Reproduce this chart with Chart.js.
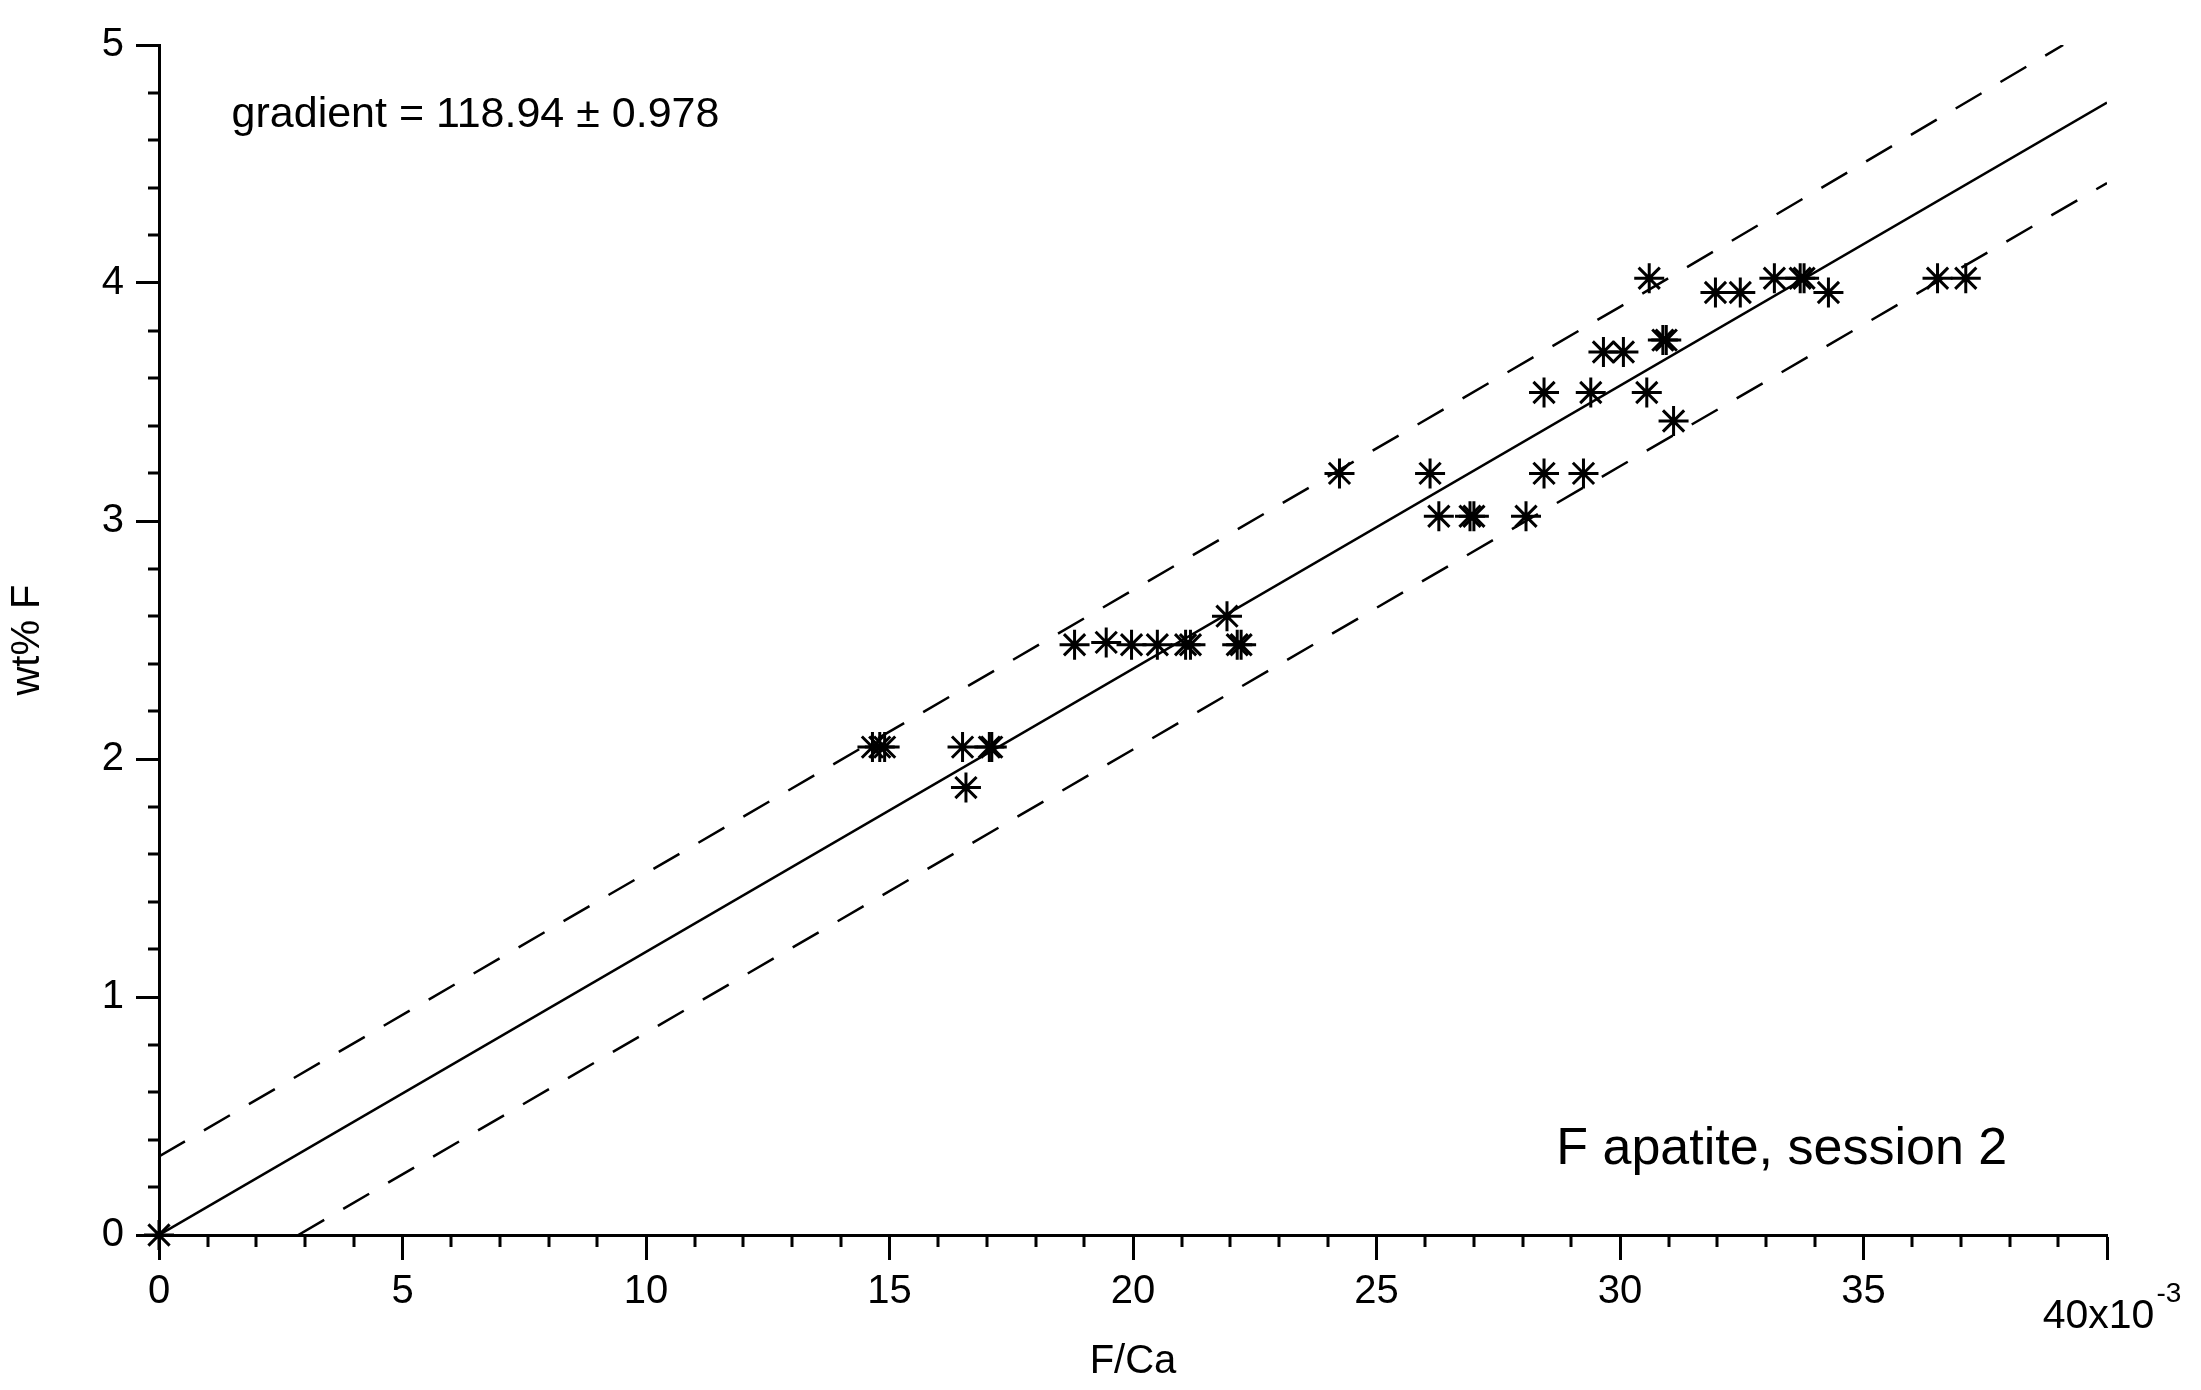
<!DOCTYPE html>
<html>
<head>
<meta charset="utf-8">
<script src="https://cdn.jsdelivr.net/npm/chart.js@4.4.1/dist/chart.umd.min.js"></script>
<style>
  body { margin: 0; background: #fff; }
  #wrap { width: 2201px; height: 1390px; position: relative; }
</style>
</head>
<body>
<div id="wrap"><canvas id="chart"></canvas></div>
<script>
// F/Ca (x10^-3) and wt% F for each analysis
const fCa = [0,
  14.65, 14.8, 14.9, 16.5, 17.05, 17.1,
  16.57,
  18.8, 19.45, 19.97, 20.5, 21.08, 21.18, 22.14, 22.22,
  21.93,
  24.24, 26.1, 28.44, 29.25,
  26.28, 26.92, 27.0, 28.07,
  28.44, 29.4, 30.55,
  29.66, 30.07,
  30.88, 30.95,
  31.1,
  30.6, 33.17, 33.7, 33.78, 36.52, 37.1,
  31.96, 32.47, 34.28];
const wtF = [0,
  2.05, 2.05, 2.05, 2.05, 2.05, 2.05,
  1.88,
  2.48, 2.49, 2.48, 2.48, 2.48, 2.48, 2.48, 2.48,
  2.6,
  3.2, 3.2, 3.2, 3.2,
  3.02, 3.02, 3.02, 3.02,
  3.54, 3.54, 3.54,
  3.71, 3.71,
  3.76, 3.76,
  3.42,
  4.02, 4.02, 4.02, 4.02, 4.02, 4.02,
  3.96, 3.96, 3.96];

// regression line and confidence band
const fitX = [0, 40];
const fitY = [0, 4.758];
const upperX = [0, 10, 20, 30, 39.1];
const upperY = [0.33, 1.52, 2.71, 3.90, 5.0];
const lowerX = [2.86, 10, 20, 30, 40];
const lowerY = [0, 0.85, 2.04, 3.23, 4.42];

const gradientText = "gradient = 118.94 \u00b1 0.978";
const sessionText = "F apatite, session 2";

const FONT = "'Liberation Sans', Arial, sans-serif";
Chart.defaults.font.family = FONT;
Chart.defaults.color = "#000";

const pts = (xs, ys) => xs.map((x, i) => ({ x, y: ys[i] }));

const extras = {
  id: "extras",
  afterDraw(chart) {
    const { ctx, scales: { x, y } } = chart;
    ctx.save();
    ctx.strokeStyle = "#000";
    ctx.lineWidth = 3;
    // minor ticks
    ctx.beginPath();
    for (let v = 1; v < 40; v++) {
      if (v % 5 === 0) continue;
      const px = Math.round(x.getPixelForValue(v));
      ctx.moveTo(px, y.bottom);
      ctx.lineTo(px, y.bottom + 12);
    }
    for (let i = 1; i < 25; i++) {
      if (i % 5 === 0) continue;
      const py = Math.round(y.getPixelForValue(i / 5));
      ctx.moveTo(x.left, py);
      ctx.lineTo(x.left - 11, py);
    }
    ctx.stroke();

    // last x label with exponent
    ctx.fillStyle = "#000";
    ctx.textBaseline = "alphabetic";
    ctx.font = `41px ${FONT}`;
    const base = "40x10";
    const w1 = ctx.measureText(base).width;
    ctx.font = `28px ${FONT}`;
    const w2 = ctx.measureText("-3").width;
    const cx = x.getPixelForValue(40);
    const left = cx - (w1 + w2) / 2 + 4;
    ctx.font = `41px ${FONT}`;
    ctx.textAlign = "left";
    ctx.fillText(base, left, 1328);
    ctx.font = `28px ${FONT}`;
    ctx.fillText("-3", left + w1 + 2, 1302);

    // annotations
    ctx.font = `43px ${FONT}`;
    ctx.fillText(gradientText, x.getPixelForValue(1.49), y.getPixelForValue(4.655));
    ctx.font = `52px ${FONT}`;
    ctx.textAlign = "right";
    ctx.fillText(sessionText, x.getPixelForValue(37.95), y.getPixelForValue(0.3));
    ctx.restore();
  }
};

new Chart(document.getElementById("chart"), {
  type: "scatter",
  data: {
    datasets: [
      {
        data: pts(fCa, wtF),
        pointStyle: "star",
        pointRadius: 15,
        pointHoverRadius: 15,
        borderColor: "#000",
        backgroundColor: "#000",
        pointBorderWidth: 3,
        clip: false
      },
      {
        type: "line",
        data: pts(fitX, fitY),
        borderColor: "#000",
        borderWidth: 2.5,
        pointRadius: 0,
        fill: false
      },
      {
        type: "line",
        data: pts(upperX, upperY),
        borderColor: "#000",
        borderWidth: 2.5,
        borderDash: [30, 22],
        pointRadius: 0,
        fill: false
      },
      {
        type: "line",
        data: pts(lowerX, lowerY),
        borderColor: "#000",
        borderWidth: 2.5,
        borderDash: [30, 22],
        pointRadius: 0,
        fill: false
      }
    ]
  },
  options: {
    responsive: true,
    maintainAspectRatio: false,
    animation: false,
    events: [],
    layout: { padding: { top: 45, right: 94, left: 0, bottom: 0 } },
    plugins: { legend: { display: false }, tooltip: { enabled: false } },
    scales: {
      x: {
        type: "linear",
        min: 0,
        max: 40,
        afterFit: s => { s.height = 155; },
        border: { color: "#000", width: 3 },
        grid: { drawOnChartArea: false, tickLength: 25, tickColor: "#000", tickWidth: 3 },
        ticks: {
          stepSize: 5,
          maxRotation: 0,
          padding: 8,
          font: { size: 40 },
          callback: v => (v === 40 ? "" : v)
        },
        title: { display: true, text: "F/Ca", font: { size: 40 }, padding: { top: 0, bottom: 4 } }
      },
      y: {
        min: 0,
        max: 5,
        afterFit: s => { s.width = 159; },
        border: { color: "#000", width: 3 },
        grid: { drawOnChartArea: false, tickLength: 23, tickColor: "#000", tickWidth: 3 },
        ticks: { stepSize: 1, padding: 12, font: { size: 40 } },
        title: { display: true, text: "wt% F", font: { size: 40 }, padding: { top: 4, bottom: 0 } }
      }
    }
  },
  plugins: [extras]
});
</script>
</body>
</html>
